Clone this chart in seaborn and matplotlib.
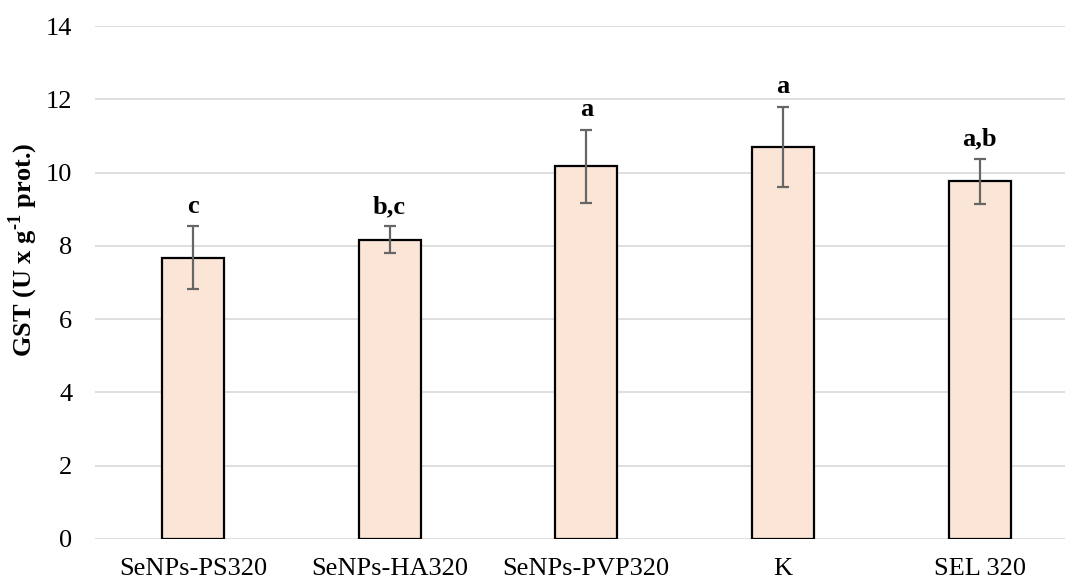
import matplotlib
matplotlib.use("Agg")
import matplotlib.pyplot as plt
import seaborn as sns

# values
groups = ["SeNPs-PS320", "SeNPs-HA320", "SeNPs-PVP320", "K", "SEL 320"]
gst_mean = [7.68, 8.17, 10.17, 10.71, 9.76]
gst_sd = [0.85, 0.36, 1.00, 1.09, 0.61]
letters = ["c", "b,c", "a", "a", "a,b"]
y_ticks = [0, 2, 4, 6, 8, 10, 12, 14]

sns.set_style("white")
plt.rcParams["font.family"] = ["Liberation Serif", "DejaVu Serif"]
plt.rcParams["text.color"] = "black"
plt.rcParams["axes.labelcolor"] = "black"
plt.rcParams["xtick.color"] = "black"
plt.rcParams["ytick.color"] = "black"
plt.rcParams["mathtext.fontset"] = "custom"
plt.rcParams["mathtext.rm"] = "Liberation Serif:bold"
plt.rcParams["mathtext.bf"] = "Liberation Serif:bold"

fig = plt.figure(figsize=(10.65, 5.81), dpi=100)
ax = fig.add_axes([0.0888, 0.0723, 0.9234, 0.8829])

sns.barplot(x=groups, y=gst_mean, color="#FBE5D6", saturation=1,
            edgecolor="black", linewidth=1.6, width=0.315, ax=ax, zorder=3)
ax.errorbar(range(len(groups)), gst_mean, yerr=gst_sd, fmt="none",
            ecolor="#666666", elinewidth=1.6, capsize=4.3, capthick=1.6, zorder=4)

for i, (m, s, lab) in enumerate(zip(gst_mean, gst_sd, letters)):
    ax.annotate(lab, (i, m + s), xytext=(0, 6), textcoords="offset points",
                ha="center", va="bottom", fontsize=19, fontweight="bold")

ax.set_ylim(0, 14)
ax.set_xlim(-0.5, len(groups) - 0.5)
ax.set_yticks(y_ticks)
ax.yaxis.grid(True, color="#D9D9D9", linewidth=1.2, zorder=0)
ax.set_axisbelow(True)
for sp in ax.spines.values():
    sp.set_visible(False)
ax.tick_params(axis="both", length=0, labelsize=19)
ax.tick_params(axis="y", pad=16)
ax.tick_params(axis="x", pad=14)
ax.set_ylabel(r"GST (U x g$^{\text{-1}}$ prot.)", fontsize=19,
              fontweight="bold")
ax.yaxis.set_label_coords(-0.055, 0.563)

fig.savefig("out.png", dpi=100)
